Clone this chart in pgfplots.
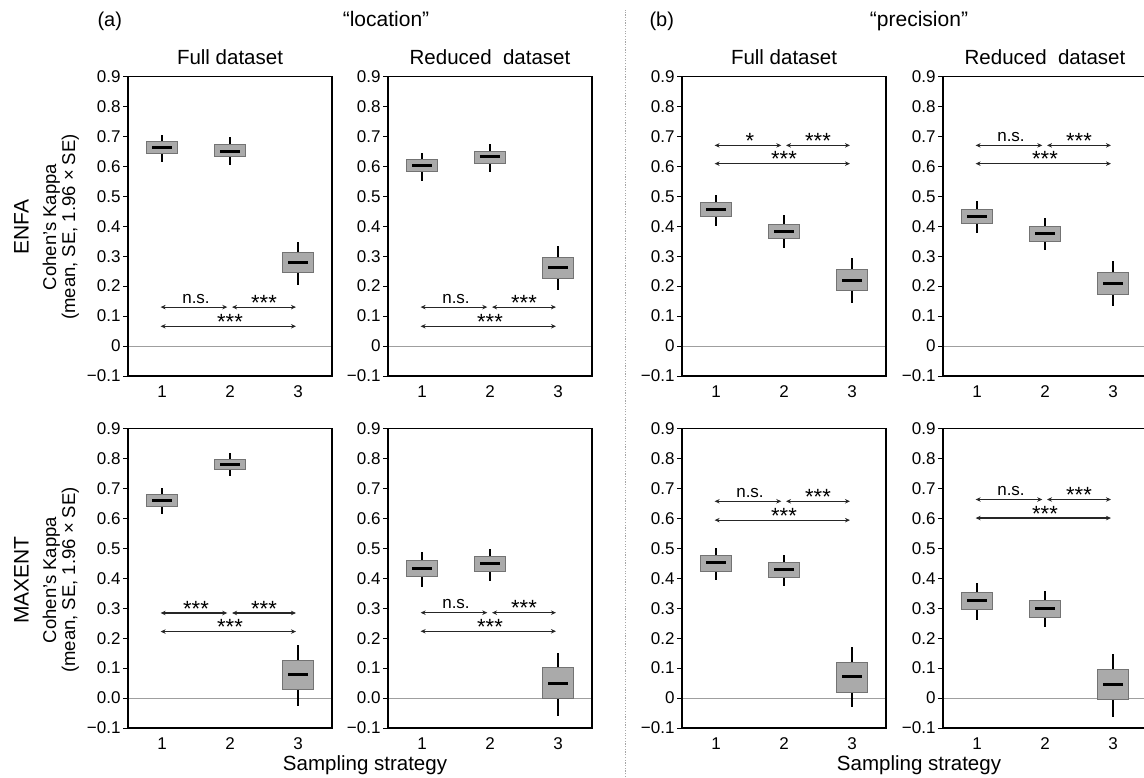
\documentclass[border=0pt]{standalone}
\usepackage{fontspec}
\setmainfont{Liberation Sans}
\usepackage{pgfplots}
\pgfplotsset{compat=1.18}
\usetikzlibrary{arrows.meta}
\definecolor{boxfill}{RGB}{170,170,170}
\definecolor{boxborder}{RGB}{115,115,115}
\newcommand\fs[1]{\fontsize{#1}{#1}\selectfont}
\newcommand\stars{\raisebox{-0.42em}{\fs{22}***}}
\newcommand\onestar{\raisebox{-0.42em}{\fs{22}*}}
\pgfplotsset{
  panel/.style={
    scale only axis, width=204pt, height=299.5pt, anchor=south west,
    xmin=0.5, xmax=3.5, ymin=-0.1, ymax=0.9,
    xtick={1,2,3}, xticklabels={1,2,3},
    ytick={-0.1,0,0.1,0.2,0.3,0.4,0.5,0.6,0.7,0.8,0.9},
    yticklabels={−0.1,0,0.1,0.2,0.3,0.4,0.5,0.6,0.7,0.8,0.9},
    tick align=outside, ytick pos=left, xtick pos=bottom,
    major tick length=5pt,
    x tick style={draw=none},
    y tick style={black, line width=0.9pt},
    axis line style={black, line width=1.2pt},
    tick label style={font=\fs{17}, black},
    xticklabel style={yshift=-1pt},
    yticklabel style={xshift=1pt},
    clip=false, axis on top,
  },
  zeroy/.style={yticklabels={−0.1,0.0,0.1,0.2,0.3,0.4,0.5,0.6,0.7,0.8,0.9}},
  boxst/.style={draw=boxborder, fill=boxfill, line width=1pt, mark=none},
  whisk/.style={black, line width=1.8pt, mark=none},
  meanst/.style={black, line width=3pt, mark=none},
  sigarrow/.style={line width=1.2pt, black!85, mark=none, arrows={Stealth[length=5pt,width=4.5pt]-Stealth[length=5pt,width=4.5pt]}},
  zeroline/.style={gray!75, line width=1pt, mark=none},
}
% #1 position, #2 mean, #3 upper box, #4 lower box, #5 upper whisker, #6 lower whisker
\newcommand\bx[6]{%
  \pgfmathsetmacro\xl{#1-0.235}\pgfmathsetmacro\xr{#1+0.235}%
  \pgfmathsetmacro\ml{#1-0.14}\pgfmathsetmacro\mr{#1+0.14}%
  \edef\tmp{%
    \noexpand\addplot[whisk] coordinates {(#1,#4) (#1,#6)};
    \noexpand\addplot[whisk] coordinates {(#1,#3) (#1,#5)};
    \noexpand\addplot[boxst] coordinates {(\xl,#4) (\xr,#4) (\xr,#3) (\xl,#3)} -- cycle;
    \noexpand\addplot[meanst] coordinates {(\ml,#2) (\mr,#2)};
  }\tmp
}
\newcommand\sig[5]{%
  \addplot[sigarrow] coordinates {(0.98,#1) (1.96,#1)};
  \addplot[sigarrow] coordinates {(2.03,#1) (2.97,#1)};
  \addplot[sigarrow] coordinates {(0.98,#2) (2.97,#2)};
  \node[anchor=base, yshift=4pt, font=\fs{17}] at (axis cs:1.5,#1) {#3};
  \node[anchor=base, yshift=4pt, font=\fs{17}] at (axis cs:2.5,#1) {#4};
  \node[anchor=base, yshift=4pt, font=\fs{17}] at (axis cs:2.0,#2) {#5};
}
\newcommand\ptitle[1]{\node[anchor=base, font=\fs{20.5}] at (rel axis cs:0.5,1) [yshift=12pt] {#1};}
\begin{document}
\begin{tikzpicture}
\useasboundingbox (0,0) rectangle (1144pt,777pt);
% ---------- row 1: ENFA ----------
\begin{axis}[panel, at={(128pt,401pt)}]
\addplot[zeroline] coordinates {(0.5,0) (3.5,0)};
\bx{1}{0.664}{0.683}{0.644}{0.705}{0.616}
\bx{2}{0.651}{0.674}{0.632}{0.697}{0.605}
\bx{3}{0.279}{0.311}{0.244}{0.348}{0.203}
\sig{0.130}{0.066}{n.s.}{\stars}{\stars}
\ptitle{Full dataset}
\end{axis}
\begin{axis}[panel, at={(388pt,401pt)}]
\addplot[zeroline] coordinates {(0.5,0) (3.5,0)};
\bx{1}{0.602}{0.624}{0.582}{0.646}{0.552}
\bx{2}{0.632}{0.650}{0.608}{0.674}{0.582}
\bx{3}{0.262}{0.297}{0.226}{0.334}{0.187}
\sig{0.130}{0.066}{n.s.}{\stars}{\stars}
\ptitle{Reduced\ \ dataset}
\end{axis}
\begin{axis}[panel, at={(682pt,401pt)}]
\addplot[zeroline] coordinates {(0.5,0) (3.5,0)};
\bx{1}{0.455}{0.480}{0.432}{0.504}{0.401}
\bx{2}{0.384}{0.406}{0.360}{0.437}{0.329}
\bx{3}{0.220}{0.256}{0.187}{0.295}{0.144}
\sig{0.670}{0.609}{\onestar}{\stars}{\stars}
\ptitle{Full dataset}
\end{axis}
\begin{axis}[panel, at={(943pt,401pt)}]
\addplot[zeroline] coordinates {(0.5,0) (3.5,0)};
\bx{1}{0.432}{0.457}{0.408}{0.485}{0.378}
\bx{2}{0.377}{0.398}{0.350}{0.426}{0.320}
\bx{3}{0.210}{0.244}{0.173}{0.283}{0.133}
\sig{0.670}{0.609}{n.s.}{\stars}{\stars}
\ptitle{Reduced\ \ dataset}
\end{axis}
% ---------- row 2: MAXENT ----------
\begin{axis}[panel, zeroy, at={(128pt,49pt)}]
\addplot[zeroline] coordinates {(0.5,0) (3.5,0)};
\bx{1}{0.661}{0.678}{0.639}{0.700}{0.615}
\bx{2}{0.780}{0.798}{0.764}{0.817}{0.743}
\bx{3}{0.077}{0.124}{0.027}{0.177}{-0.026}
\sig{0.284}{0.222}{\stars}{\stars}{\stars}
\end{axis}
\begin{axis}[panel, zeroy, at={(388pt,49pt)}]
\addplot[zeroline] coordinates {(0.5,0) (3.5,0)};
\bx{1}{0.434}{0.460}{0.407}{0.488}{0.371}
\bx{2}{0.448}{0.474}{0.423}{0.499}{0.390}
\bx{3}{0.049}{0.101}{0.000}{0.149}{-0.059}
\sig{0.285}{0.223}{n.s.}{\stars}{\stars}
\end{axis}
\begin{axis}[panel, at={(682pt,49pt)}]
\addplot[zeroline] coordinates {(0.5,0) (3.5,0)};
\bx{1}{0.451}{0.475}{0.424}{0.501}{0.393}
\bx{2}{0.430}{0.453}{0.402}{0.479}{0.373}
\bx{3}{0.071}{0.120}{0.020}{0.170}{-0.030}
\sig{0.657}{0.594}{n.s.}{\stars}{\stars}
\end{axis}
\begin{axis}[panel, at={(943pt,49pt)}]
\addplot[zeroline] coordinates {(0.5,0) (3.5,0)};
\bx{1}{0.327}{0.353}{0.296}{0.383}{0.261}
\bx{2}{0.298}{0.326}{0.270}{0.356}{0.236}
\bx{3}{0.045}{0.096}{-0.006}{0.147}{-0.063}
\sig{0.663}{0.601}{n.s.}{\stars}{\stars}
\end{axis}
% ---------- labels ----------
\node[anchor=base west, font=\fs{20}] at (94pt,750pt) {(a)};
\node[anchor=base, font=\fs{21}] at (386pt,750pt) {“location”};
\node[anchor=base west, font=\fs{20}] at (646pt,750pt) {(b)};
\node[anchor=base, font=\fs{21}] at (919pt,750pt) {“precision”};
\node[anchor=base, rotate=90, font=\fs{21}] at (28.5pt,550pt) {ENFA};
\node[anchor=base, rotate=90, font=\fs{18.5}] at (56pt,550pt) {Cohen's Kappa};
\node[anchor=base, rotate=90, font=\fs{18.5}] at (75pt,550pt) {(mean, SE, 1.96 × SE)};
\node[anchor=base, rotate=90, font=\fs{21}] at (28.5pt,197pt) {MAXENT};
\node[anchor=base, rotate=90, font=\fs{18.5}] at (56pt,197pt) {Cohen's Kappa};
\node[anchor=base, rotate=90, font=\fs{18.5}] at (75pt,197pt) {(mean, SE, 1.96 × SE)};
\node[anchor=base, font=\fs{20.5}] at (365pt,6pt) {Sampling strategy};
\node[anchor=base, font=\fs{20.5}] at (919pt,6pt) {Sampling strategy};
\draw[gray!70, line width=0.9pt, dash pattern=on 1.2pt off 1.5pt] (625pt,0pt) -- (625pt,767pt);
\end{tikzpicture}
\end{document}
